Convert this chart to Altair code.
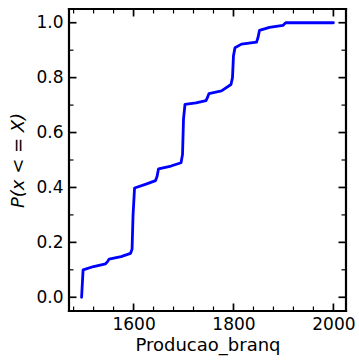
import altair as alt
import pandas as pd

# ECDF curve
x_vals = [1496, 1499, 1520, 1544, 1548, 1551, 1575, 1594, 1597, 1599, 1602, 1625,
          1644, 1647, 1650, 1675, 1695, 1698, 1700, 1703, 1725, 1745, 1748, 1751,
          1776, 1795, 1798, 1800, 1803, 1816, 1846, 1849, 1852, 1872, 1899, 1902,
          1905, 1950, 2000]
y_vals = [0.0, 0.100, 0.112, 0.122, 0.130, 0.139, 0.148, 0.160, 0.175, 0.300, 0.398, 0.412,
          0.425, 0.440, 0.468, 0.478, 0.490, 0.520, 0.650, 0.703, 0.708, 0.716, 0.728, 0.742,
          0.752, 0.775, 0.800, 0.880, 0.909, 0.922, 0.929, 0.945, 0.972, 0.983, 0.990, 0.996,
          1.0, 1.0, 1.0]

x_major = [1600, 1800, 2000]
x_minor = [1480, 1520, 1560, 1640, 1680, 1720, 1760, 1840, 1880, 1920, 1960]
y_major = [0.0, 0.2, 0.4, 0.6, 0.8, 1.0]
y_minor = [0.1, 0.3, 0.5, 0.7, 0.9]

W, H = 277, 302
MAJ, MIN = 7.5, 4.5

df = pd.DataFrame({"x": x_vals, "y": y_vals})
dxM = pd.DataFrame({"x": x_major})
dxm = pd.DataFrame({"x": x_minor})
dyM = pd.DataFrame({"y": y_major})
dym = pd.DataFrame({"y": y_minor})
one = pd.DataFrame({"k": [0]})

xscale = alt.Scale(domain=[1470.8, 2025.2], nice=False, zero=False)
yscale = alt.Scale(domain=[-0.05, 1.05], nice=False, zero=False)

xaxis = alt.Axis(values=x_major, format="d", ticks=False, domain=False, grid=False,
                 labelFontSize=17, labelColor="black", labelPadding=5, labelFont="DejaVu Sans",
                 title="Producao_branq", titleFontSize=18, titleFont="DejaVu Sans",
                 titleFontWeight="normal", titleColor="black", titlePadding=4)
yaxis = alt.Axis(values=y_major, format=".1f", ticks=False, domain=False, grid=False,
                 labelFontSize=17, labelColor="black", labelPadding=6, labelFont="DejaVu Sans",
                 title="P(x < = X)", titleFontSize=18, titleFont="DejaVu Sans",
                 titleFontStyle="italic", titleFontWeight="normal", titleColor="black",
                 titlePadding=8)

X = lambda: alt.X("x:Q", scale=xscale, axis=xaxis)
Y = lambda: alt.Y("y:Q", scale=yscale, axis=yaxis)

line = alt.Chart(df).mark_line(color="#0000ff", strokeWidth=2.8, strokeJoin="round",
                               strokeCap="round").encode(x=X(), y=Y())

def xticks(d, ln, w):
    b = alt.Chart(d).mark_rule(color="black", strokeWidth=w).encode(
        x=X(), y=alt.value(H), y2=alt.value(H - ln))
    t = alt.Chart(d).mark_rule(color="black", strokeWidth=w).encode(
        x=X(), y=alt.value(0), y2=alt.value(ln))
    return [b, t]

def yticks(d, ln, w):
    l = alt.Chart(d).mark_rule(color="black", strokeWidth=w).encode(
        y=Y(), x=alt.value(0), x2=alt.value(ln))
    r = alt.Chart(d).mark_rule(color="black", strokeWidth=w).encode(
        y=Y(), x=alt.value(W), x2=alt.value(W - ln))
    return [l, r]

spine = lambda: alt.Chart(one).mark_rule(color="black", strokeWidth=2.2, strokeCap="square")
spines = [
    spine().encode(x=alt.value(0), y=alt.value(0), y2=alt.value(H)),
    spine().encode(x=alt.value(W), y=alt.value(0), y2=alt.value(H)),
    spine().encode(y=alt.value(0), x=alt.value(0), x2=alt.value(W)),
    spine().encode(y=alt.value(H), x=alt.value(0), x2=alt.value(W)),
]

layers = ([line] + xticks(dxM, MAJ, 1.7) + xticks(dxm, MIN, 1.2)
          + yticks(dyM, MAJ, 1.7) + yticks(dym, MIN, 1.2) + spines)

chart = alt.layer(*layers).properties(
    width=W, height=H,
    autosize=alt.AutoSizeParams(type="none"),
    padding={"left": 69, "top": 9, "right": 13, "bottom": 49},
).configure_view(stroke=None).configure(background="white")

chart.save("out.html", embed_options={"renderer": "svg", "actions": False})
